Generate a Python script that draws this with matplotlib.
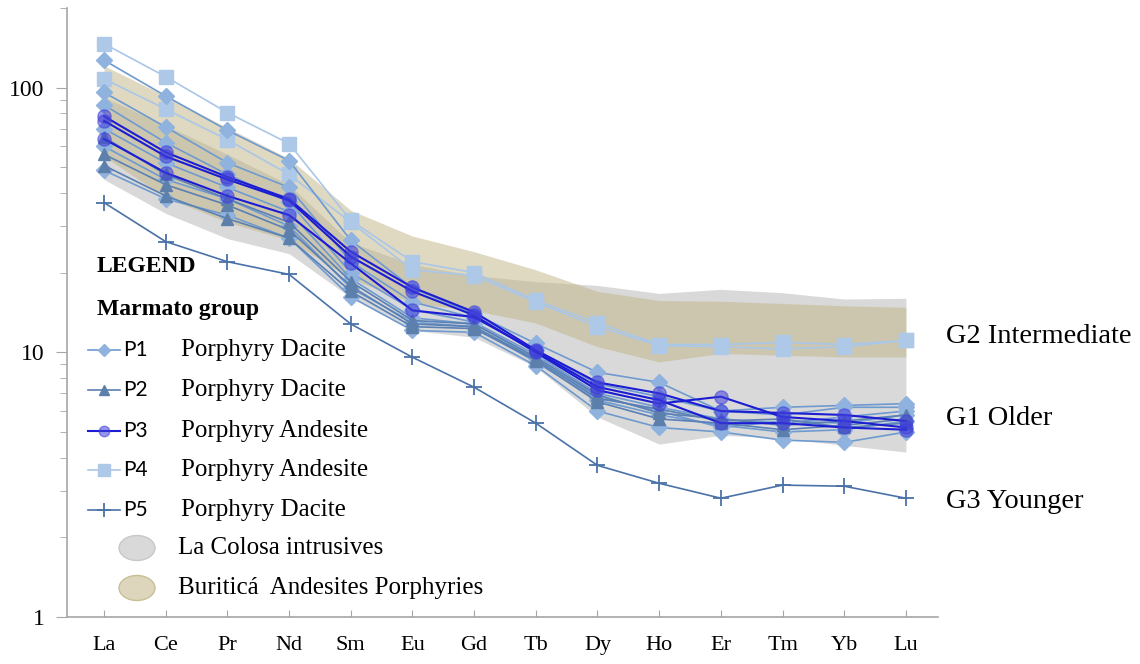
import numpy as np
import matplotlib
matplotlib.use('Agg')
import matplotlib.pyplot as plt
from matplotlib.lines import Line2D
from matplotlib.patches import Ellipse
from matplotlib.ticker import LogLocator, NullFormatter, FixedLocator

plt.rcParams['font.family'] = ['Liberation Serif', 'DejaVu Serif']

elements = ['La', 'Ce', 'Pr', 'Nd', 'Sm', 'Eu', 'Gd', 'Tb', 'Dy', 'Ho', 'Er', 'Tm', 'Yb', 'Lu']

# La Colosa intrusives envelope
colosa_hi = [92, 72, 56, 43, 26, 21.5, 19.5, 18.5, 17.9, 16.7, 17.3, 16.8, 15.9, 16.0]
colosa_lo = [45, 33.5, 26.9, 23.6, 16.1, 12.1, 11.4, 8.8, 5.7, 4.5, 4.86, 4.74, 4.45, 4.2]
# Buritica andesite porphyries envelope
buritica_hi = [121, 93, 70.6, 54, 34.4, 27.5, 24, 20.5, 17.0, 15.7, 15.6, 15.3, 15.0, 14.8]
buritica_lo = [55, 38.5, 31, 26.5, 19, 15.3, 14.4, 12.9, 10.5, 9.2, 9.9, 9.75, 9.6, 9.6]

# P1 porphyry dacite
p1 = [
    [127, 93, 69, 53, 26.5, 17.5, 14.0, 10.8, 8.4, 7.7, 6.0, 6.2, 6.3, 6.4],
    [96, 71, 52, 42, 22, 15.5, 13.5, 10.2, 7.6, 6.8, 6.0, 5.8, 6.2, 6.2],
    [86, 62, 47, 37, 20, 14.5, 13.0, 9.8, 7.0, 6.2, 5.6, 5.4, 5.7, 6.0],
    [60, 45, 38, 30, 17.5, 13.0, 12.5, 9.2, 6.6, 5.8, 5.3, 5.0, 5.1, 5.5],
    [48.7, 38, 33, 27, 16.2, 12.1, 11.9, 8.9, 6.0, 5.2, 5.0, 4.66, 4.57, 5.0],
    [70, 52, 42, 34, 19, 13.5, 12.8, 9.5, 6.8, 6.0, 5.2, 5.5, 5.4, 5.8],
]
# P2 porphyry dacite
p2 = [
    [50.8, 39, 32, 27, 17, 12.5, 12.3, 9.3, 6.5, 5.6, 5.4, 5.1, 5.3, 5.6],
    [65, 47, 38, 31, 18.5, 13.2, 12.8, 9.6, 6.9, 5.9, 5.6, 5.3, 5.5, 5.8],
    [56, 43, 36, 29, 17.8, 12.8, 12.5, 9.4, 6.7, 6.1, 5.5, 5.6, 5.2, 5.4],
]
# P3 porphyry andesite
p3 = [
    [78, 57, 46, 38, 24, 17.6, 14.2, 10.2, 7.7, 7.0, 6.0, 5.9, 5.8, 5.5],
    [75, 55, 45, 37.5, 23, 17.0, 13.8, 10.0, 7.2, 6.4, 6.8, 5.7, 5.5, 5.2],
    [64, 47.7, 39, 33, 21.7, 14.4, 13.6, 10.1, 7.4, 6.6, 5.4, 5.4, 5.2, 5.1],
]
# P4 porphyry andesite
p4 = [
    [146.6, 110, 80.5, 61.5, 31.5, 22, 20, 15.7, 12.9, 10.7, 10.7, 10.9, 10.7, 11.1],
    [108, 83, 63.6, 47, 31, 20.5, 19.5, 15.5, 12.5, 10.6, 10.5, 10.3, 10.5, 11.1],
]
# P5 porphyry dacite
p5 = [36.8, 26.2, 22.0, 19.7, 12.8, 9.58, 7.38, 5.40, 3.74, 3.20, 2.81, 3.15, 3.12, 2.81]

group_labels = ['G2 Intermediate', 'G1 Older', 'G3 Younger']
group_levels = [11.5, 5.6, 2.72]

x = np.arange(len(elements))

fig = plt.figure(figsize=(11.4, 6.64), dpi=100)
ax = fig.add_axes([67 / 1140, 1 - 617 / 664, 871 / 1140, 609 / 664])

ax.fill_between(x, colosa_lo, colosa_hi, color='#d9d9d9', lw=0, zorder=1)
ax.fill_between(x, buritica_lo, buritica_hi, color='#c2b68a', alpha=0.52, lw=0, zorder=1.5)

styles = {
    'P1': dict(color='#6e9ad0', marker='D', ms=8, mfc='#8fb2de', mec='#8fb2de', lw=1.2),
    'P2': dict(color='#5a80b4', marker='^', ms=8.5, mfc='#5d7fac', mec='#5d7fac', lw=1.2),
    'P3': dict(color='#1c1cd2', marker='o', ms=9.5, mfc=(0.25, 0.25, 0.85, 0.55), mec=(0.25, 0.25, 0.85, 0.55), lw=1.5),
    'P4': dict(color='#aac6e8', marker='s', ms=10.5, mfc='#aec8e8', mec='#aec8e8', lw=1.2),
    'P5': dict(color='#4a72a8', marker='+', ms=12, mew=1.3, lw=1.2),
}

for s in p1:
    ax.plot(x, s, zorder=3, **styles['P1'])
for s in p2:
    ax.plot(x, s, zorder=3, **styles['P2'])
for s in p4:
    ax.plot(x, s, zorder=2.5, **styles['P4'])
for s in p3:
    ax.plot(x, s, zorder=4, **styles['P3'])
ax.plot(x, p5, zorder=3, **styles['P5'])

for lab, lev in zip(group_labels, group_levels):
    ax.text(13.65, lev, lab, fontsize=20.5, va='center', ha='left', clip_on=False)

ax.set_yscale('log')
ax.set_ylim(1, 200)
ax.set_xlim(-0.6, 13.52)
ax.yaxis.set_major_locator(FixedLocator([1, 10, 100]))
ax.set_yticklabels(['1', '10', '100'])
ax.yaxis.set_minor_locator(LogLocator(base=10, subs=np.arange(2, 10)))
ax.yaxis.set_minor_formatter(NullFormatter())
ax.set_xticks(x)
ax.set_xticklabels(elements)
ax.tick_params(axis='y', which='major', length=8, color='#a6a6a6', labelsize=17, pad=8)
ax.tick_params(axis='y', which='minor', length=5, color='#a6a6a6')
ax.tick_params(axis='x', direction='in', length=5, color='#a6a6a6', labelsize=16, pad=14)
for side in ['top', 'right']:
    ax.spines[side].set_visible(False)
for side in ['left', 'bottom']:
    ax.spines[side].set_color('#a6a6a6')
    ax.spines[side].set_linewidth(1.2)


def fx(px):
    return px / 1140


def fy(py):
    return 1 - py / 664


fig.text(fx(97), fy(266), 'LEGEND', fontsize=17, fontweight='bold', va='center')
fig.text(fx(97), fy(309), 'Marmato group', fontsize=17, fontweight='bold', va='center')

rows = [('P1', 'Porphyry Dacite', 350), ('P2', 'Porphyry Dacite', 390),
        ('P3', 'Porphyry Andesite', 431), ('P4', 'Porphyry Andesite', 470),
        ('P5', 'Porphyry Dacite', 510)]
for key, desc, py in rows:
    st = dict(styles[key])
    st['ms'] = st['ms'] * 0.8
    fig.add_artist(Line2D([fx(88), fx(104), fx(120)], [fy(py)] * 3, transform=fig.transFigure,
                          markevery=[1], **st))
    fig.text(fx(123), fy(py), key, fontsize=15, family=['Lato', 'DejaVu Sans'], va='center')
    fig.text(fx(181), fy(py), desc, fontsize=18, va='center')

for face, edge, desc, py in [('#d9d9d9', '#c8c8c8', 'La Colosa intrusives', 548),
                             ('#ddd6bd', '#c9bf95', 'Buriticá  Andesites Porphyries', 588)]:
    fig.add_artist(Ellipse((fx(137), fy(py)), 36 / 1140, 25 / 664, transform=fig.transFigure,
                           facecolor=face, edgecolor=edge, lw=1))
    fig.text(fx(178), fy(py), desc, fontsize=18, va='center')

fig.savefig('out.png', dpi=100)
